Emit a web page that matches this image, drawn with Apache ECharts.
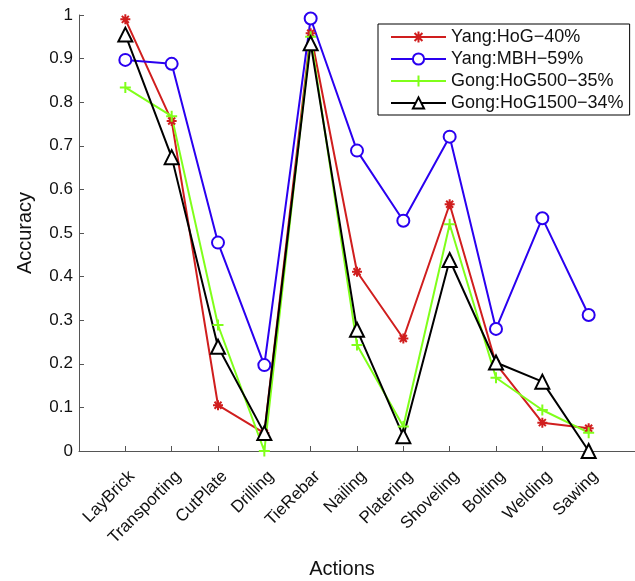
<!DOCTYPE html>
<html><head><meta charset="utf-8">
<script src="https://cdn.jsdelivr.net/npm/echarts@6/dist/echarts.min.js"></script>
<style>html,body{margin:0;padding:0;background:#fff}#c{width:635px;height:581px}</style>
</head><body><div id="c"></div>
<script>
const categories = ['LayBrick','Transporting','CutPlate','Drilling','TieRebar','Nailing','Platering','Shoveling','Bolting','Welding','Sawing'];
const yTicks = [0,0.1,0.2,0.3,0.4,0.5,0.6,0.7,0.8,0.9,1];
const yangHoG = [0.99,0.757,0.105,0.041,0.958,0.411,0.258,0.566,0.2,0.065,0.052];
const yangMBH = [0.897,0.888,0.478,0.197,0.992,0.689,0.528,0.721,0.28,0.534,0.312];
const gongHoG500 = [0.834,0.768,0.289,0.0,0.95,0.243,0.056,0.52,0.168,0.094,0.042];
const gongHoG1500 = [0.955,0.674,0.239,0.041,0.935,0.278,0.034,0.438,0.203,0.159,0.0];
const seriesNames = ['Yang:HoG\u221240%','Yang:MBH\u221259%','Gong:HoG500\u221235%','Gong:HoG1500\u221234%'];

const asterisk = 'path://M5,0L5,10M0,5L10,5M1.5,1.5L8.5,8.5M8.5,1.5L1.5,8.5';
const plus = 'path://M5,0L5,10M0,5L10,5';
function pts(arr){return arr.map((v,i)=>[i+1,v]);}
function mk(name, arr, color, symbol, size, fill){
  return {name, type:'line', data:pts(arr), symbol, symbolSize:size, showSymbol:true,
    lineStyle:{color, width:2}, itemStyle:{color:fill, borderColor:color, borderWidth:2},
    emphasis:{disabled:true}, animation:false, z: 2};
}
const chart = echarts.init(document.getElementById('c'), null, {renderer:'canvas'});
const font = 'Liberation Sans, Arial, Helvetica, sans-serif';
chart.setOption({
  animation:false,
  textStyle:{fontFamily:font},
  grid:{left:79, top:15, right:0, bottom:130, containLabel:false, outerBoundsMode:'none'},
  legend:{orient:'vertical', left:378, top:24, padding:[4,6,3,12], itemGap:4, itemWidth:55, itemHeight:14,
    backgroundColor:'#fff', borderColor:'#000', borderWidth:1, borderRadius:0,
    textStyle:{fontSize:18, color:'#111', fontFamily:font, padding:[0,0,0,0]},
    data:seriesNames},
  xAxis:{type:'value', min:0, max:12, interval:1, name:'Actions', nameLocation:'middle', nameGap:108,
    nameTextStyle:{fontSize:20, color:'#111', fontFamily:font, padding:[0,30,0,0]},
    axisLine:{lineStyle:{color:'#555', width:1}}, axisTick:{inside:true, length:5, lineStyle:{color:'#555'}},
    splitLine:{show:false},
    axisLabel:{rotate:45, fontSize:17, color:'#111', margin:16, fontFamily:font, verticalAlign:'top', padding:[1,0,0,0],
      formatter:v=> (v>=1 && v<=categories.length) ? categories[v-1] : ''}},
  yAxis:{type:'value', min:0, max:1, interval:0.1, name:'Accuracy', nameLocation:'middle', nameGap:44,
    nameTextStyle:{fontSize:20, color:'#111', fontFamily:font},
    axisLine:{show:true, lineStyle:{color:'#555', width:1}}, axisTick:{show:true, inside:true, length:5, lineStyle:{color:'#555'}},
    splitLine:{show:false},
    axisLabel:{fontSize:17, color:'#111', margin:6, fontFamily:font,
      formatter:v=>{const r=Math.round(v*10)/10; return yTicks.includes(r)? String(r):'';}}},
  series:[
    mk(seriesNames[0], yangHoG, '#d01e1e', asterisk, 10, 'none'),
    mk(seriesNames[1], yangMBH, '#2a00f0', 'circle', 12, '#fff'),
    mk(seriesNames[2], gongHoG500, '#80ff1a', plus, 11, 'none'),
    mk(seriesNames[3], gongHoG1500, '#000000', 'triangle', 14, '#fff')
  ]
});
</script></body></html>
